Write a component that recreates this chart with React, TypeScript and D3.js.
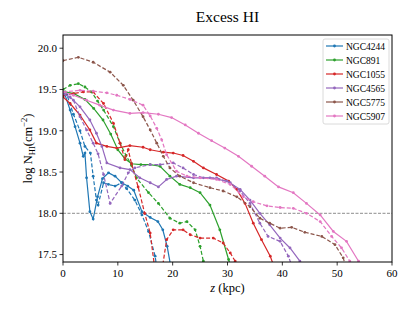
import React from "react";
import * as d3 from "d3";

const W = 415, H = 312;
const M = { left: 63, right: 392, top: 35, bottom: 262 };

const xTicks = [0, 10, 20, 30, 40, 50, 60];
const yTicks = [17.5, 18.0, 18.5, 19.0, 19.5, 20.0];
const galaxies = ["NGC4244", "NGC891", "NGC1055", "NGC4565", "NGC5775", "NGC5907"];
const colors = ["#1f77b4", "#2ca02c", "#d62728", "#9467bd", "#8c564b", "#e377c2"];

// NGC4244
const n4244SolidX = [0, 0.4, 1.3, 2.2, 3.1, 3.7, 4.0, 4.3, 4.9, 5.5, 6.3, 7.2, 8.3, 9.5, 10.7, 11.8, 12.9, 14.4, 15.9, 17.3, 18.2, 19.0, 19.8];
const n4244SolidY = [19.45, 19.43, 19.25, 19.05, 18.85, 18.69, 18.73, 18.43, 18.02, 17.93, 18.2, 18.42, 18.49, 18.45, 18.37, 18.33, 18.28, 18.02, 17.95, 17.9, 17.8, 17.6, 17.3];
const n4244DashX = [0, 0.7, 1.9, 3.1, 4.0, 5.0, 5.5, 6.1, 6.4, 7.4, 8.3, 9.5, 10.7, 11.6, 13.1, 14.4, 15.6, 16.8, 17.2];
const n4244DashY = [19.45, 19.44, 19.2, 19.0, 18.81, 18.73, 18.45, 18.16, 18.1, 18.37, 18.35, 18.33, 18.37, 18.3, 18.16, 17.98, 17.78, 17.48, 17.3];

// NGC891
const n891SolidX = [0, 0.4, 2.0, 4.0, 5.6, 7.3, 8.7, 10.0, 11.3, 12.5, 14.2, 15.9, 17.7, 19.5, 21.3, 23.2, 25.0, 26.8, 28.6, 30.2, 30.8];
const n891SolidY = [19.47, 19.47, 19.45, 19.38, 19.27, 19.13, 18.96, 18.77, 18.66, 18.6, 18.59, 18.59, 18.57, 18.45, 18.35, 18.31, 18.25, 18.1, 17.8, 17.44, 17.3];
const n891DashX = [0, 1.3, 2.8, 4.0, 5.2, 6.3, 7.4, 9.2, 10.4, 11.5, 12.5, 13.4, 15.6, 17.4, 19.5, 21.3, 22.6, 24.1, 25.0, 25.6, 26.2];
const n891DashY = [19.5, 19.55, 19.57, 19.53, 19.47, 19.36, 19.25, 19.05, 18.85, 18.7, 18.58, 18.43, 18.25, 18.12, 17.94, 17.88, 17.9, 17.8, 17.6, 17.42, 17.3];

// NGC1055
const n1055SolidX = [0, 1.3, 3.1, 4.9, 6.1, 8.0, 9.8, 12.2, 14.6, 15.9, 18.3, 20.1, 21.9, 23.8, 25.6, 28.0, 30.2, 31.7, 33.2, 34.7, 36.2, 37.8, 38.5];
const n1055SolidY = [19.41, 19.33, 19.19, 19.01, 18.85, 18.81, 18.79, 18.82, 18.8, 18.77, 18.74, 18.73, 18.7, 18.63, 18.55, 18.47, 18.39, 18.29, 18.12, 17.88, 17.68, 17.48, 17.35];
const n1055DashX = [0, 1.9, 3.7, 5.5, 7.4, 9.2, 10.4, 11.3, 11.9, 12.5, 13.7, 14.9, 15.9, 16.8, 17.2, 17.8, 18.9, 20.1, 21.9, 23.2, 25.0, 27.4, 29.2, 30.5, 31.4, 31.9];
const n1055DashY = [19.43, 19.45, 19.47, 19.47, 19.33, 19.09, 18.85, 18.65, 18.77, 18.6, 18.32, 18.0, 17.76, 17.3, 16.95, 17.2, 17.68, 17.8, 17.8, 17.74, 17.7, 17.7, 17.64, 17.52, 17.42, 17.3];

// NGC4565
const n4565SolidX = [0, 1.3, 3.1, 4.9, 6.1, 7.1, 8.0, 10.4, 12.2, 14.0, 15.9, 17.4, 18.9, 20.7, 23.8, 26.8, 29.9, 32.3, 34.1, 35.9, 37.7, 39.6, 41.4, 43.2, 44.0];
const n4565SolidY = [19.45, 19.41, 19.29, 19.13, 18.97, 18.81, 18.61, 18.55, 18.53, 18.43, 18.37, 18.32, 18.41, 18.45, 18.43, 18.43, 18.39, 18.29, 18.16, 18.0, 17.86, 17.7, 17.58, 17.42, 17.35];
const n4565DashX = [0, 1.9, 3.1, 4.3, 5.5, 6.4, 7.4, 8.6, 10.7, 11.9, 13.1, 15.9, 17.7, 20.1, 21.9, 23.8, 25.6, 28.0, 30.5, 32.3, 34.1, 35.9, 37.4, 39.6, 41.1, 41.8];
const n4565DashY = [19.45, 19.37, 19.17, 19.01, 18.85, 18.72, 18.47, 18.12, 18.33, 18.49, 18.55, 18.59, 18.59, 18.61, 18.55, 18.47, 18.43, 18.43, 18.37, 18.27, 18.12, 17.88, 17.72, 17.66, 17.48, 17.35];

// NGC5775
const n5775DashX = [0, 2.8, 5.5, 8.6, 11.0, 12.8, 14.6, 15.9, 17.1, 18.3, 19.5, 21.3, 23.8, 26.8, 29.2, 31.7, 34.1, 35.9, 37.7, 39.6, 41.7, 44.1, 47.2, 49.6, 51.1, 51.6];
const n5775DashY = [19.85, 19.89, 19.83, 19.71, 19.55, 19.37, 19.17, 19.01, 18.85, 18.69, 18.55, 18.45, 18.37, 18.31, 18.27, 18.2, 18.08, 17.94, 17.88, 17.82, 17.83, 17.77, 17.72, 17.62, 17.46, 17.35];

// NGC5907
const n5907SolidX = [0, 1.9, 4.3, 6.7, 9.2, 12.2, 14.6, 17.4, 19.8, 22.3, 24.7, 27.1, 29.5, 32.0, 34.4, 36.8, 39.3, 42.0, 44.4, 46.9, 49.3, 51.7, 53.9, 54.4];
const n5907SolidY = [19.47, 19.43, 19.37, 19.31, 19.25, 19.21, 19.22, 19.2, 19.16, 19.07, 18.97, 18.88, 18.79, 18.69, 18.57, 18.45, 18.32, 18.25, 18.12, 17.98, 17.78, 17.66, 17.42, 17.35];
const n5907DashX = [0, 3.1, 5.5, 8.0, 9.8, 12.2, 14.6, 15.9, 17.1, 18.0, 18.9, 20.7, 22.6, 25.0, 28.0, 30.5, 32.9, 34.7, 37.2, 39.6, 42.0, 44.4, 46.9, 49.0, 50.8, 52.3, 52.8];
const n5907DashY = [19.47, 19.49, 19.48, 19.46, 19.43, 19.38, 19.31, 19.18, 19.03, 18.89, 18.71, 18.51, 18.45, 18.43, 18.41, 18.35, 18.2, 18.14, 18.09, 18.07, 18.06, 18.0, 17.9, 17.72, 17.58, 17.42, 17.35];

const series = [
  { x: n4244SolidX, y: n4244SolidY, c: 0, dash: false },
  { x: n4244DashX, y: n4244DashY, c: 0, dash: true },
  { x: n891SolidX, y: n891SolidY, c: 1, dash: false },
  { x: n891DashX, y: n891DashY, c: 1, dash: true },
  { x: n1055SolidX, y: n1055SolidY, c: 2, dash: false },
  { x: n1055DashX, y: n1055DashY, c: 2, dash: true },
  { x: n4565SolidX, y: n4565SolidY, c: 3, dash: false },
  { x: n4565DashX, y: n4565DashY, c: 3, dash: true },
  { x: n5775DashX, y: n5775DashY, c: 4, dash: true },
  { x: n5907SolidX, y: n5907SolidY, c: 5, dash: false },
  { x: n5907DashX, y: n5907DashY, c: 5, dash: true },
];

const FONT = "'Liberation Serif', 'Times New Roman', serif";

export default function App() {
  const x = d3.scaleLinear().domain([0, 60]).range([M.left, M.right]);
  const y = d3.scaleLinear().domain([17.41, 20.16]).range([M.bottom, M.top]);
  const line = d3.line<[number, number]>().x(d => x(d[0])).y(d => y(d[1]));

  return (
    <svg width={W} height={H} style={{ position: "absolute", left: 0, top: 0, background: "#fff" }} fontFamily={FONT}>
      <defs>
        <clipPath id="plot">
          <rect x={M.left} y={M.top} width={M.right - M.left} height={M.bottom - M.top} />
        </clipPath>
      </defs>
      <text x={(M.left + M.right) / 2} y={22} textAnchor="middle" fontSize={15.5}>Excess HI</text>
      <line x1={M.left} x2={M.right} y1={y(18)} y2={y(18)} stroke="#808080" strokeWidth={0.9} strokeDasharray="3,1.5" />
      <g clipPath="url(#plot)">
        {series.map((s, i) => {
          const pts = s.x.map((v, j) => [v, s.y[j]] as [number, number]);
          return (
            <g key={i}>
              <path d={line(pts) || ""} fill="none" stroke={colors[s.c]} strokeWidth={1.2} strokeDasharray={s.dash ? "4,2" : undefined} />
              {pts.map((p, j) => (
                <circle key={j} cx={x(p[0])} cy={y(p[1])} r={1.4} fill={colors[s.c]} />
              ))}
            </g>
          );
        })}
      </g>
      <rect x={M.left} y={M.top} width={M.right - M.left} height={M.bottom - M.top} fill="none" stroke="#000" strokeWidth={1} />
      {xTicks.map(t => (
        <g key={t}>
          <line x1={x(t)} x2={x(t)} y1={M.bottom} y2={M.bottom + 3.5} stroke="#000" strokeWidth={0.8} />
          <text x={x(t)} y={M.bottom + 15} textAnchor="middle" fontSize={11}>{t}</text>
        </g>
      ))}
      {yTicks.map(t => (
        <g key={t}>
          <line x1={M.left - 3.5} x2={M.left} y1={y(t)} y2={y(t)} stroke="#000" strokeWidth={0.8} />
          <text x={M.left - 6} y={y(t) + 3.8} textAnchor="end" fontSize={11}>{t.toFixed(1)}</text>
        </g>
      ))}
      <text x={(M.left + M.right) / 2} y={292} textAnchor="middle" fontSize={12.5}>
        <tspan fontStyle="italic">z</tspan> (kpc)
      </text>
      <text transform={`translate(32,${(M.top + M.bottom) / 2}) rotate(-90)`} textAnchor="middle" fontSize={12.5}>
        log N<tspan fontSize={8.5} dy={3}>HI</tspan><tspan dy={-3}>(cm</tspan><tspan fontSize={8.5} dy={-5}>−2</tspan><tspan dy={5}>)</tspan>
      </text>
      <g>
        <rect x={323} y={39} width={66} height={85} rx={2} fill="#fff" stroke="#d0d0d0" strokeWidth={0.8} />
        {galaxies.map((g, i) => {
          const ly = 46 + i * 14;
          return (
            <g key={g}>
              <line x1={326} x2={343} y1={ly} y2={ly} stroke={colors[i]} strokeWidth={1.2} />
              <circle cx={334.5} cy={ly} r={1.4} fill={colors[i]} />
              <text x={346} y={ly + 3.5} fontSize={9.5}>{g}</text>
            </g>
          );
        })}
      </g>
    </svg>
  );
}
